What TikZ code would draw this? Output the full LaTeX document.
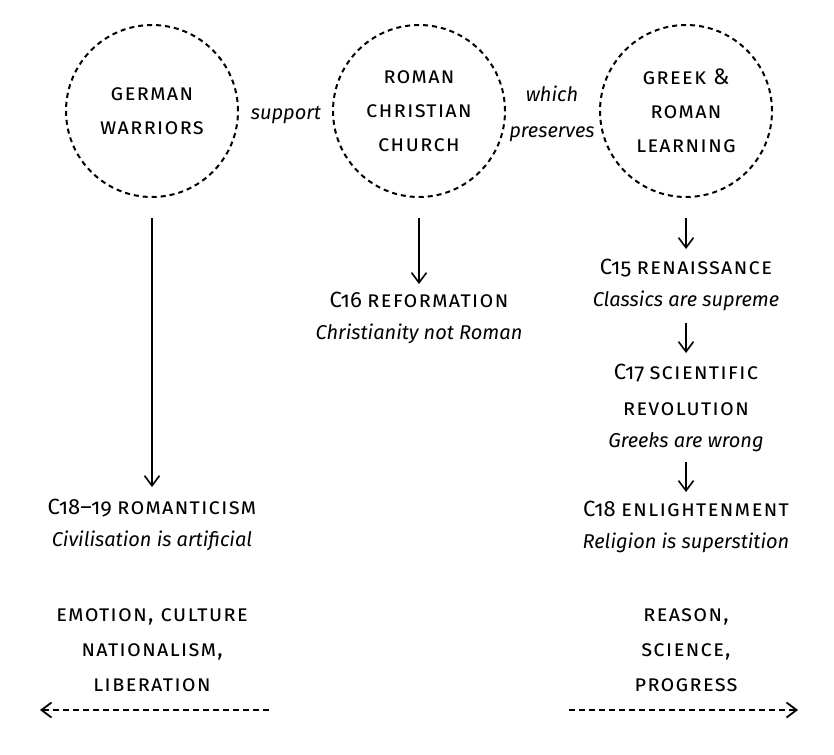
\documentclass[tikz,border=0pt]{standalone}
\usepackage{fontspec}
\setmainfont{Fira Sans}[Numbers=OldStyle]
\newfontfamily\capsfont{Fira Sans}[Letters=UppercaseSmallCaps,LetterSpace=5,Scale=1.12,Numbers=OldStyle]
\usetikzlibrary{arrows.meta}
\newcommand{\century}[2]{{\fontsize{22}{32}\selectfont #1}~{\capsfont #2}}

\begin{document}
\begin{tikzpicture}[
            x=1pt, y=-1pt,
            every node/.style = {align=center, inner sep=0pt, font=\fontsize{20}{32}\selectfont},
            idea/.style = {shape=circle, draw=black, dash pattern=on 5pt off 4pt, line width=2pt, minimum size=172pt, font=\fontsize{20}{34}\selectfont\capsfont},
            link/.style = {font=\fontsize{20}{36}\selectfont\itshape},
            epoch/.style = {anchor=north},
            slogan/.style = {anchor=north, font=\fontsize{20}{35}\selectfont\capsfont},
            lead/.style = {-{Straight Barb[length=10pt,width=15pt]}, line width=1.6pt},
            drift/.style = {lead, line width=1.8pt, dash pattern=on 6pt off 4pt}
          ]
          \useasboundingbox (0,0) rectangle (834,754);
          % the three circles
          \node[idea] (german) at (152,111) {GERMAN\\WARRIORS};
          \node[idea] (roman) at (419,111) {ROMAN\\CHRISTIAN\\CHURCH};
          \node[idea] (greek) at (686,111) {GREEK \&\\ROMAN\\LEARNING};
          \node[link, anchor=base] (support) at (286,120) {support};
          \node[link, anchor=north] (preserves) at (552,86) {which\\preserves};
          % what came of them
          \node[epoch] (reform) at (419,292) {\century{C16}{REFORMATION}\\\textit{Christianity not Roman}};
          \node[epoch] (renaissance) at (686,259) {\century{C15}{RENAISSANCE}\\\textit{Classics are supreme}};
          \node[epoch] (science) at (686,364) {\century{C17}{SCIENTIFIC}\\[4pt]{\capsfont REVOLUTION}\\\textit{Greeks are wrong}};
          \node[epoch] (enlight) at (686,501) {\century{C18}{ENLIGHTENMENT}\\\textit{Religion is superstition}};
          \node[epoch] (romantic) at (152,499) {\century{C18–19}{ROMANTICISM}\\\textit{Civilisation is artificial}};
          \node[slogan] (feeling) at (152,608) {EMOTION, CULTURE\\NATIONALISM,\\LIBERATION};
          \node[slogan] (reason) at (686,608) {REASON,\\SCIENCE,\\PROGRESS};
          \coordinate (feeling start) at (269,710);
          \coordinate (feeling end) at (40,710);
          \coordinate (reason start) at (569,710);
          \coordinate (reason end) at (798,710);
          % arrows
          \draw[lead, shorten <=20pt, shorten >=12pt] (german) -- (romantic);
          \draw[lead, shorten <=20pt, shorten >=8pt] (roman) -- (reform);
          \draw[lead, shorten <=20pt, shorten >=10pt] (greek) -- (renaissance);
          \draw[lead, shorten <=12pt, shorten >=11pt] (renaissance) -- (science);
          \draw[lead, shorten <=10pt, shorten >=9pt] (science) -- (enlight);
          \draw[drift] (feeling start) -- (feeling end);
          \draw[drift] (reason start) -- (reason end);
        \end{tikzpicture}
\end{document}
